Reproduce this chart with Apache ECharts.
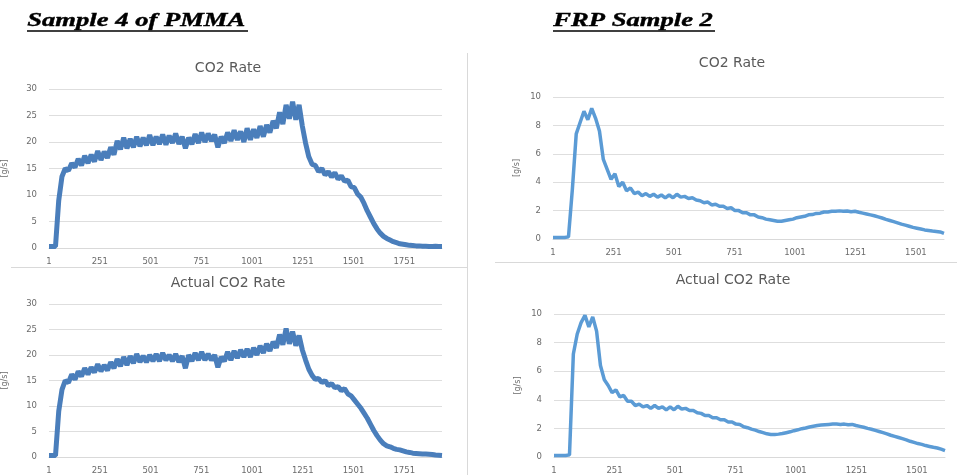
<!DOCTYPE html>
<html>
<head>
<meta charset="utf-8">
<script src="https://cdn.jsdelivr.net/npm/echarts@6/dist/echarts.min.js"></script>
<style>
html, body { margin: 0; padding: 0; background: #fff; }
#main { width: 957px; height: 475px; }
</style>
</head>
<body>
<div id="main"></div>
<script>
// one reading every 16 samples, first reading is sample 1
var SAMPLE_STEP = 16;

var pmmaRate = [
	0.3, 0.3, 0.3, 9.0, 13.5, 15.0, 14.6, 16.0, 15.2, 16.8,
	15.6, 17.4, 16.0, 17.6, 16.3, 18.3, 16.6, 18.2, 17.0, 19.0,
	17.6, 20.2, 18.6, 20.8, 18.8, 20.6, 19.0, 21.0, 19.2, 20.8,
	19.4, 21.3, 19.4, 21.0, 19.6, 21.4, 19.5, 21.2, 19.8, 21.6,
	19.6, 21.0, 18.8, 20.8, 19.6, 21.5, 19.8, 21.8, 20.0, 21.6,
	20.2, 21.4, 19.0, 21.0, 19.8, 21.8, 20.2, 22.2, 20.4, 22.0,
	20.0, 22.6, 20.4, 22.4, 20.8, 23.0, 21.0, 23.2, 21.8, 24.0,
	22.6, 25.6, 23.4, 27.0, 24.4, 27.6, 24.2, 27.0, 23.0, 19.8,
	17.2, 15.8, 15.6, 14.4, 15.0, 13.8, 14.4, 13.4, 14.2, 13.0,
	13.6, 12.6, 12.8, 11.6, 11.4, 10.2, 9.6, 8.4, 7.0, 5.8,
	4.6, 3.6, 2.8, 2.2, 1.8, 1.5, 1.2, 1.0, 0.8, 0.7,
	0.6, 0.5, 0.45, 0.4, 0.4, 0.35, 0.35, 0.3, 0.3, 0.35,
	0.3, 0.3
];

var pmmaActual = [
	0.3, 0.3, 0.3, 9.0, 13.2, 15.0, 14.6, 16.2, 15.2, 16.8,
	15.8, 17.4, 16.2, 17.6, 16.6, 18.2, 16.8, 18.0, 17.0, 18.6,
	17.4, 19.2, 17.8, 19.6, 18.0, 19.8, 18.4, 20.2, 18.6, 19.8,
	18.6, 20.0, 18.8, 20.2, 18.8, 20.4, 19.0, 20.0, 18.8, 20.2,
	18.6, 19.8, 17.4, 20.0, 18.8, 20.4, 19.0, 20.6, 19.0, 20.2,
	19.0, 20.0, 17.6, 19.6, 18.8, 20.6, 19.0, 20.8, 19.4, 21.0,
	19.6, 21.2, 19.6, 21.4, 20.0, 21.8, 20.4, 22.2, 20.8, 22.6,
	21.4, 24.0, 22.0, 25.2, 22.2, 24.6, 21.8, 23.8, 21.0, 19.0,
	17.2, 16.0, 15.2, 15.4, 14.6, 15.0, 14.0, 14.4, 13.6, 13.8,
	13.0, 13.4, 12.4, 12.0, 11.2, 10.4, 9.6, 8.6, 7.6, 6.4,
	5.2, 4.2, 3.3, 2.6, 2.2, 2.0, 1.7, 1.5, 1.4, 1.2,
	1.0, 0.9, 0.75, 0.7, 0.65, 0.6, 0.6, 0.55, 0.5, 0.4,
	0.35, 0.3
];

var frpRate = [
	0.1, 0.1, 0.1, 0.1, 0.15, 3.5, 7.4, 8.2, 9.0, 8.4,
	9.2, 8.5, 7.6, 5.6, 4.9, 4.2, 4.6, 3.7, 4.0, 3.4,
	3.6, 3.2, 3.3, 3.05, 3.2, 3.0, 3.15, 2.95, 3.1, 2.9,
	3.1, 2.9, 3.15, 2.95, 3.0, 2.85, 2.9, 2.75, 2.7, 2.55,
	2.6, 2.4, 2.45, 2.3, 2.3, 2.15, 2.2, 2.0, 2.0, 1.85,
	1.85, 1.7, 1.7, 1.55, 1.5, 1.4, 1.35, 1.3, 1.25, 1.25,
	1.3, 1.35, 1.4, 1.5, 1.55, 1.6, 1.7, 1.72, 1.8, 1.82,
	1.9, 1.9, 1.95, 1.95, 1.98, 1.95, 1.97, 1.92, 1.95, 1.88,
	1.82, 1.76, 1.7, 1.64, 1.56, 1.48, 1.38, 1.3, 1.22, 1.14,
	1.05, 0.98, 0.9, 0.82, 0.76, 0.7, 0.64, 0.6, 0.56, 0.53,
	0.5, 0.4
];

var frpActual = [
	0.1, 0.1, 0.1, 0.1, 0.15, 7.2, 8.6, 9.4, 9.9, 9.1,
	9.8, 8.8, 6.4, 5.4, 5.0, 4.5, 4.7, 4.2, 4.3, 3.9,
	3.9, 3.6, 3.7, 3.5, 3.6, 3.4, 3.6, 3.4, 3.5, 3.3,
	3.5, 3.3, 3.55, 3.35, 3.4, 3.25, 3.25, 3.1, 3.05, 2.9,
	2.9, 2.75, 2.75, 2.6, 2.6, 2.45, 2.45, 2.3, 2.28, 2.12,
	2.05, 1.95, 1.88, 1.78, 1.7, 1.62, 1.58, 1.57, 1.6, 1.64,
	1.7, 1.76, 1.84, 1.9, 1.98, 2.03, 2.1, 2.15, 2.2, 2.23,
	2.26, 2.28, 2.3, 2.3, 2.28, 2.3, 2.26, 2.28, 2.2, 2.14,
	2.08, 2.0, 1.94, 1.86, 1.78, 1.7, 1.62, 1.52, 1.44, 1.36,
	1.28, 1.2, 1.1, 1.02, 0.94, 0.88, 0.8, 0.74, 0.68, 0.63,
	0.55, 0.45
];

var chartTitles = ['CO2 Rate', 'Actual CO2 Rate', 'CO2 Rate', 'Actual CO2 Rate'];
var yAxisName = '[g/s]';
var pmmaYMax = 30, pmmaYStep = 5;
var frpYMax = 10, frpYStep = 2;
var xLabelStep = 250;

function toPoints(values) {
	return values.map(function (v, i) {
		return [i * SAMPLE_STEP, v];
	});
}

function lastSample(values) {
	return (values.length - 1) * SAMPLE_STEP;
}

var labelFont = 'DejaVu Sans';
var gray = '#6b6b6b';

function makeXAxis(grid, max) {
	return {
		type: 'value',
		gridIndex: grid,
		min: 0,
		max: max,
		interval: xLabelStep,
		axisLine: { show: true, lineStyle: { color: '#d9d9d9' } },
		axisTick: { show: false },
		splitLine: { show: false },
		axisLabel: {
			color: gray,
			fontFamily: labelFont,
			fontSize: 8.5,
			margin: 9,
			showMaxLabel: false,
			formatter: function (v) { return String(v + 1); }
		}
	};
}

function makeYAxis(grid, max, step, gap) {
	return {
		type: 'value',
		gridIndex: grid,
		min: 0,
		max: max,
		interval: step,
		name: yAxisName,
		nameLocation: 'middle',
		nameRotate: 90,
		nameGap: gap,
		nameTextStyle: { color: gray, fontFamily: labelFont, fontSize: 8 },
		axisLine: { show: false },
		axisTick: { show: false },
		splitLine: { lineStyle: { color: '#dedede' } },
		axisLabel: { color: gray, fontFamily: labelFont, fontSize: 8.5, margin: 12 }
	};
}

function makeTitle(text, x, y) {
	return {
		text: text,
		left: x,
		top: y,
		textAlign: 'center',
		padding: 0,
		textStyle: { color: '#595959', fontFamily: labelFont, fontSize: 14, fontWeight: 'normal' }
	};
}

function makeHeading(text, x) {
	return {
		type: 'text',
		left: x,
		top: 11,
		scaleX: 1.4,
		style: {
			text: text,
			fill: '#000',
			stroke: '#000',
			lineWidth: 0.4,
			font: 'italic bold 19px "Liberation Serif"'
		}
	};
}

function underline(x1, x2) {
	return {
		type: 'line',
		shape: { x1: x1, y1: 31, x2: x2, y2: 31 },
		style: { stroke: '#000', lineWidth: 1.6 }
	};
}

function border(x1, y1, x2, y2) {
	return {
		type: 'line',
		shape: { x1: x1, y1: y1, x2: x2, y2: y2 },
		style: { stroke: '#d9d9d9', lineWidth: 1 }
	};
}

function makeSeries(values, idx, color, width) {
	return {
		type: 'line',
		xAxisIndex: idx,
		yAxisIndex: idx,
		data: toPoints(values),
		showSymbol: false,
		symbol: 'none',
		lineStyle: { color: color, width: width },
		silent: true
	};
}

var myChart = echarts.init(document.getElementById('main'));
var option = {
	animation: false,
	backgroundColor: '#fff',
	title: [
		makeTitle(chartTitles[0], 228, 61),
		makeTitle(chartTitles[1], 228, 276),
		makeTitle(chartTitles[2], 732, 56),
		makeTitle(chartTitles[3], 733, 273)
	],
	grid: [
		{ left: 48, top: 89, width: 394, height: 159 },
		{ left: 47, top: 304, width: 395, height: 158 },
		{ left: 553, top: 97, width: 391, height: 142 },
		{ left: 554, top: 314, width: 391, height: 143 }
	],
	xAxis: [
		makeXAxis(0, lastSample(pmmaRate)),
		makeXAxis(1, lastSample(pmmaActual)),
		makeXAxis(2, lastSample(frpRate)),
		makeXAxis(3, lastSample(frpActual))
	],
	yAxis: [
		makeYAxis(0, pmmaYMax, pmmaYStep, 40),
		makeYAxis(1, pmmaYMax, pmmaYStep, 40),
		makeYAxis(2, frpYMax, frpYStep, 32),
		makeYAxis(3, frpYMax, frpYStep, 32)
	],
	graphic: [
		makeHeading('Sample 4 of PMMA', 27),
		underline(27, 248),
		makeHeading('FRP Sample 2', 553),
		underline(553, 715),
		border(467.5, 53, 467.5, 475),
		border(11, 267.5, 467.5, 267.5),
		border(495, 262.5, 957, 262.5)
	],
	series: [
		makeSeries(pmmaRate, 0, '#4a7ebb', 5),
		makeSeries(pmmaActual, 1, '#4a7ebb', 5),
		makeSeries(frpRate, 2, '#5b9bd5', 3.5),
		makeSeries(frpActual, 3, '#5b9bd5', 3.5)
	]
};
myChart.setOption(option);
</script>
</body>
</html>
